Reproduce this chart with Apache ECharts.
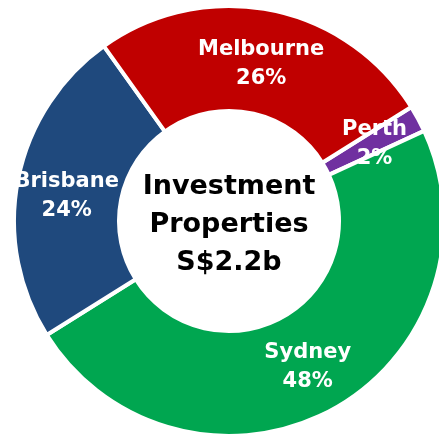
<!DOCTYPE html>
<html>
<head>
<meta charset="utf-8">
<script src="https://cdn.jsdelivr.net/npm/echarts@6/dist/echarts.min.js"></script>
<style>
  html, body { margin: 0; padding: 0; background: #fff; }
  #chart { width: 439px; height: 437px; }
</style>
</head>
<body>
<div id="chart"></div>
<script>
// cities, clockwise starting at Perth (upper right)
const cities = ['Perth', 'Sydney', 'Brisbane', 'Melbourne'];
const shares = [2, 48, 24, 26];
const colours = ['#7030A0', '#00A650', '#1F497D', '#C00000'];
const centreLines = ['Investment', 'Properties', 'S$2.2b'];
// small nudges so the labels sit where the original puts them
const labelNudge = [[0, 2], [0, 0], [0, 7], [0, 5]];

const box = echarts.init(document.getElementById('chart'));

const option = {
  animation: false,
  graphic: [{
    type: 'text',
    style: {
      x: 229,
      y: 225,
      text: centreLines.join('\n'),
      font: 'bold 27px "DejaVu Sans"',
      lineHeight: 38,
      fill: '#000',
      align: 'center',
      verticalAlign: 'middle'
    },
    z: 100
  }],
  series: [{
    type: 'pie',
    center: [229, 221],
    radius: [110, 215],
    startAngle: 32,
    clockwise: true,
    itemStyle: { borderColor: '#fff', borderWidth: 4 },
    label: {
      show: true,
      position: 'inside',
      color: '#fff',
      fontFamily: 'DejaVu Sans',
      fontWeight: 'bold',
      fontSize: 21,
      lineHeight: 29,
      formatter: p => p.name + '\n' + p.value + '%'
    },
    labelLine: { show: false },
    data: cities.map((c, i) => ({
      name: c,
      value: shares[i],
      itemStyle: { color: colours[i] },
      label: { offset: labelNudge[i] }
    }))
  }]
};

box.setOption(option);
</script>
</body>
</html>
